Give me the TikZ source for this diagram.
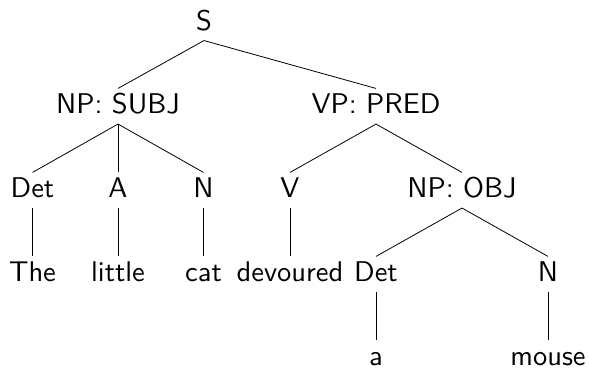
\documentclass[tikz,border=0pt]{standalone}
\begin{document}
\begin{tikzpicture}[x=1pt,y=-1pt,
  syn/.style={font=\sffamily, scale=2.85, anchor=base, inner sep=0pt, outer sep=0pt,
              text height=8.8pt, text depth=3.7pt},
  leaf/.style={syn, text depth=0pt},
  branch/.style={line width=0.8pt, black}]
  \useasboundingbox (0,0) rectangle (589,368);

  % category and word labels, placed on their baselines
  \node[syn] (s)     at (204,30)     {S};
  \node[syn] (npsub) at (118,113.5)  {NP: SUBJ};
  \node[syn] (vp)    at (376,113.5)  {VP: PRED};
  \node[syn] (det1)  at (32.5,197.5) {Det};
  \node[syn] (adj)   at (118,197.5)  {A};
  \node[syn] (n1)    at (203.5,197.5){N};
  \node[syn] (v)     at (290,197.5)  {V};
  \node[syn] (npobj) at (462,197.5)  {NP: OBJ};
  \node[syn] (the)   at (32.5,281.5) {The};
  \node[syn] (little)at (118,281.5)  {little};
  \node[syn] (cat)   at (203.5,281.5){cat};
  \node[syn] (dev)   at (290,281.5)  {devoured};
  \node[syn] (det2)  at (376,281.5)  {Det};
  \node[syn] (n2)    at (548,281.5)  {N};
  \node[leaf] (a)     at (376,365)   {a};
  \node[leaf] (mouse) at (548,365)   {mouse};

  % branches from each parent to its children
  \draw[branch] (s.south) -- (npsub.north);
  \draw[branch] (s.south) -- (vp.north);
  \draw[branch] (npsub.south) -- (det1.north);
  \draw[branch] (npsub.south) -- (adj.north);
  \draw[branch] (npsub.south) -- (n1.north);
  \draw[branch] (vp.south) -- (v.north);
  \draw[branch] (vp.south) -- (npobj.north);
  \draw[branch] (det1.south) -- (the.north);
  \draw[branch] (adj.south) -- (little.north);
  \draw[branch] (n1.south) -- (cat.north);
  \draw[branch] (v.south) -- (dev.north);
  \draw[branch] (npobj.south) -- (det2.north);
  \draw[branch] (npobj.south) -- (n2.north);
  \draw[branch] (det2.south) -- (a.north);
  \draw[branch] (n2.south) -- (mouse.north);
\end{tikzpicture}
\end{document}
